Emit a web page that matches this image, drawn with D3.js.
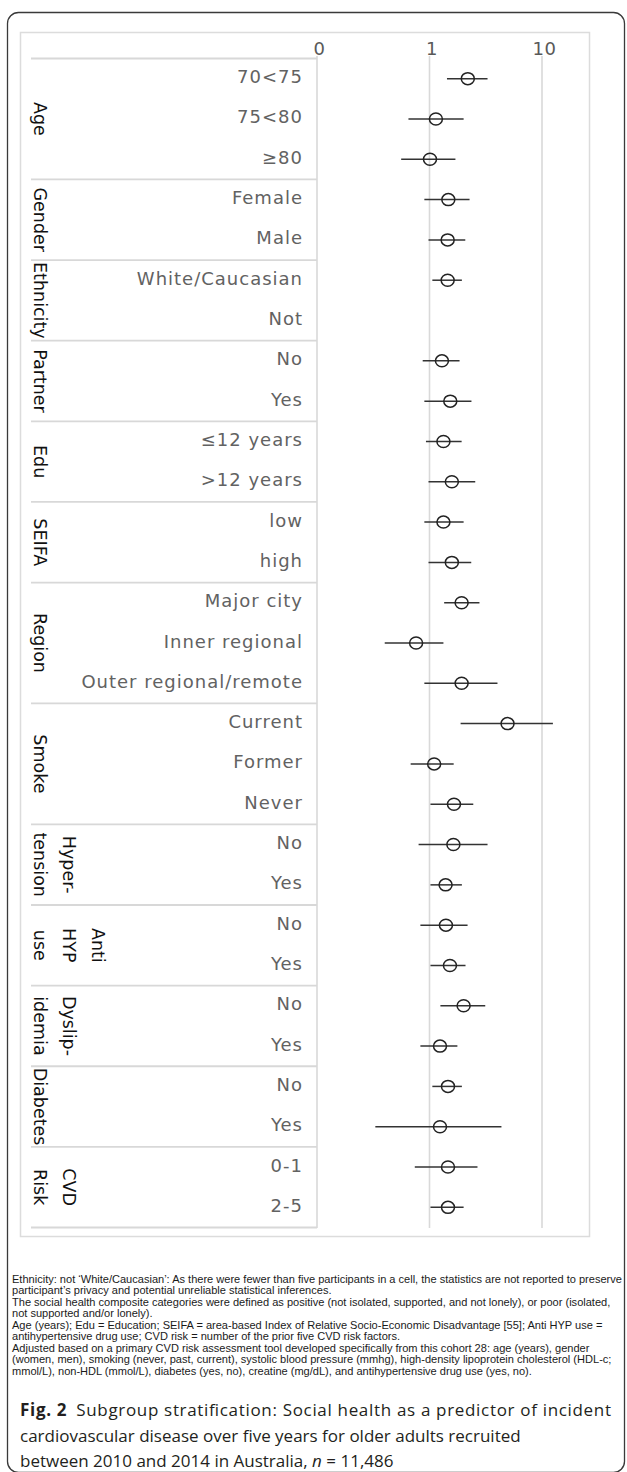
<!DOCTYPE html>
<html><head><meta charset="utf-8">
<script src="https://cdn.jsdelivr.net/npm/d3@7"></script>
<style>
html,body{margin:0;padding:0;background:#fff;}
svg{display:block;}
</style></head>
<body>
<script>
// ---------- data ----------
const groupLabels = [["Age"],["Gender"],["Ethnicity"],["Partner"],["Edu"],["SEIFA"],["Region"],["Smoke"],["Hyper-","tension"],["Anti","HYP","use"],["Dyslip-","idemia"],["Diabetes"],["CVD","Risk"]];
const groupSizes = [3,2,2,2,2,2,3,3,2,2,2,2,2];
const categories = ["70<75","75<80","≥80","Female","Male","White/Caucasian","Not","No","Yes","≤12 years",">12 years","low","high","Major city","Inner regional","Outer regional/remote","Current","Former","Never","No","Yes","No","Yes","No","Yes","No","Yes","0-1","2-5"];
const estimate = [2.19,1.14,1.01,1.47,1.45,1.45,null,1.29,1.53,1.33,1.58,1.33,1.58,1.93,0.76,1.93,4.94,1.10,1.65,1.63,1.39,1.40,1.52,2.01,1.24,1.46,1.24,1.46,1.46];
const lower    = [1.43,0.65,0.56,0.90,0.98,1.06,null,0.87,0.90,0.93,0.98,0.90,0.98,1.35,0.40,0.90,1.89,0.68,1.02,0.80,1.02,0.83,1.02,1.25,0.83,1.06,0.33,0.74,1.02];
const upper    = [3.28,2.01,1.70,2.27,2.08,1.94,null,1.85,2.36,1.93,2.55,2.01,2.35,2.78,1.33,4.02,12.5,1.64,2.45,3.28,1.94,2.18,2.09,3.13,1.77,1.94,4.36,2.67,2.01];
const tickValues = [0.1,1,10];
const tickLabels = ["0","1","10"];
const footnotes = [
 "Ethnicity: not ‘White/Caucasian’: As there were fewer than five participants in a cell, the statistics are not reported to preserve",
 "participant’s privacy and potential unreliable statistical inferences.",
 "The social health composite categories were defined as positive (not isolated, supported, and not lonely), or poor (isolated,",
 "not supported and/or lonely).",
 "Age (years); Edu = Education; SEIFA = area-based Index of Relative Socio-Economic Disadvantage [55]; Anti HYP use =",
 "antihypertensive drug use; CVD risk = number of the prior five CVD risk factors.",
 "Adjusted based on a primary CVD risk assessment tool developed specifically from this cohort 28: age (years), gender",
 "(women, men), smoking (never, past, current), systolic blood pressure (mmhg), high-density lipoprotein cholesterol (HDL-c;",
 "mmol/L), non-HDL (mmol/L), diabetes (yes, no), creatine (mg/dL), and antihypertensive drug use (yes, no)."
];
const captionBold = "Fig. 2";
const captionLines = [
 "Subgroup stratification: Social health as a predictor of incident",
 "cardiovascular disease over five years for older adults recruited",
 "between 2010 and 2014 in Australia, "
];
const captionN = "n";
const captionNValue = " = 11,486";

// ---------- layout ----------
const W = 627, H = 1472;
const svg = d3.select("body").append("svg").attr("width", W).attr("height", H);
svg.append("rect").attr("width", W).attr("height", H).attr("fill", "#fff");

// outer frame
svg.append("rect").attr("x", 7.5).attr("y", 12.5).attr("width", 617).attr("height", 1460)
  .attr("rx", 11).attr("fill", "none").attr("stroke", "#3a3a3a").attr("stroke-width", 1.3);

// chart panel
svg.append("rect").attr("x", 20.5).attr("y", 32.5).attr("width", 569).attr("height", 1204)
  .attr("fill", "#fff").attr("stroke", "#dcdcdc").attr("stroke-width", 1.5);

const rowIds = d3.range(categories.length);
const y = d3.scaleBand().domain(rowIds).range([58.5, 1227.5]).padding(0);
const x = d3.scaleLog().domain([0.1, 10]).range([317, 542]);

const gridTop = 56, gridBottom = 1228;
svg.append("g").selectAll("line").data(tickValues).join("line")
  .attr("x1", d => x(d)).attr("x2", d => x(d))
  .attr("y1", gridTop).attr("y2", gridBottom)
  .attr("stroke", "#d9d9d9").attr("stroke-width", 1.6);

const axis = d3.axisTop(x).tickValues(tickValues).tickFormat((d, i) => tickLabels[i]).tickSize(0).tickPadding(0);
const axG = svg.append("g").attr("transform", "translate(2,57)").call(axis);
axG.select(".domain").remove();
axG.selectAll("text").attr("font-family", "DejaVu Sans").attr("font-size", 18)
  .attr("fill", "#595959").attr("letter-spacing", 0.5).attr("dy", "-0.1em");

const bounds = [0];
groupSizes.forEach(s => bounds.push(bounds[bounds.length - 1] + s));
const edgeY = i => i < categories.length ? y(i) : y(categories.length - 1) + y.bandwidth();
svg.append("g").selectAll("line").data(bounds).join("line")
  .attr("x1", 31).attr("x2", 317)
  .attr("y1", d => edgeY(d)).attr("y2", d => edgeY(d))
  .attr("stroke", "#d8d8d8").attr("stroke-width", 1.8);

const gl = svg.append("g");
groupLabels.forEach((lines, gi) => {
  const y0 = edgeY(bounds[gi]), y1 = edgeY(bounds[gi + 1]);
  const cy = (y0 + y1) / 2;
  const n = lines.length;
  lines.forEach((ln, li) => {
    const cx = 40 + (n - 1 - li) * 29;
    gl.append("text")
      .attr("transform", `translate(${cx},${cy}) rotate(90)`)
      .attr("text-anchor", "middle").attr("dominant-baseline", "central")
      .attr("font-family", "DejaVu Sans").attr("font-size", 17.5)
      .attr("fill", "#111").text(ln);
  });
});

svg.append("g").selectAll("text").data(rowIds).join("text")
  .attr("x", 303).attr("y", d => y(d) + y.bandwidth() / 2 - 2)
  .attr("text-anchor", "end").attr("dominant-baseline", "central")
  .attr("font-family", "DejaVu Sans").attr("font-size", 18).attr("letter-spacing", 1)
  .attr("fill", "#626262").text(d => categories[d]);

const rows = rowIds.filter(i => estimate[i] != null);
const marks = svg.append("g");
marks.selectAll("line").data(rows).join("line")
  .attr("x1", d => x(lower[d])).attr("x2", d => x(upper[d]))
  .attr("y1", d => y(d) + y.bandwidth() / 2).attr("y2", d => y(d) + y.bandwidth() / 2)
  .attr("stroke", "#333").attr("stroke-width", 1.5);
marks.selectAll("ellipse").data(rows).join("ellipse")
  .attr("cx", d => x(estimate[d])).attr("cy", d => y(d) + y.bandwidth() / 2)
  .attr("rx", 6.5).attr("ry", 6)
  .attr("fill", "none").attr("stroke", "#222").attr("stroke-width", 1.5);

// footnotes: scaled horizontally so the first line spans the reference width
const fnG = svg.append("g");
const fnT = fnG.selectAll("text").data(footnotes).join("text")
  .attr("x", 0).attr("y", (d, i) => 1283 + i * 11.5)
  .attr("font-family", "Liberation Sans").attr("font-size", 10.4)
  .attr("fill", "#1a1a1a").text(d => d);
const L0 = fnT.node().getComputedTextLength();
fnG.attr("transform", `translate(12,0) scale(${610 / L0},1)`);

// caption
const capG = svg.append("g").attr("font-family", "Open Sans").attr("font-size", 17).attr("fill", "#231f20");
captionLines.forEach((ln, i) => {
  const t = capG.append("text").attr("x", 20).attr("y", 1416 + i * 25.5);
  if (i === 0) {
    t.append("tspan").attr("font-weight", "bold").text(captionBold);
    t.append("tspan").attr("dx", 9).text(ln);
    const w = t.node().getComputedTextLength();
    // first line fills the caption width (to x≈611)
    t.attr("textLength", 591).attr("lengthAdjust", "spacing");
  } else {
    t.append("tspan").text(ln);
  }
  if (i === captionLines.length - 1) {
    t.append("tspan").attr("font-style", "italic").text(captionN);
    t.append("tspan").text(captionNValue);
  }
});
</script>
</body></html>
